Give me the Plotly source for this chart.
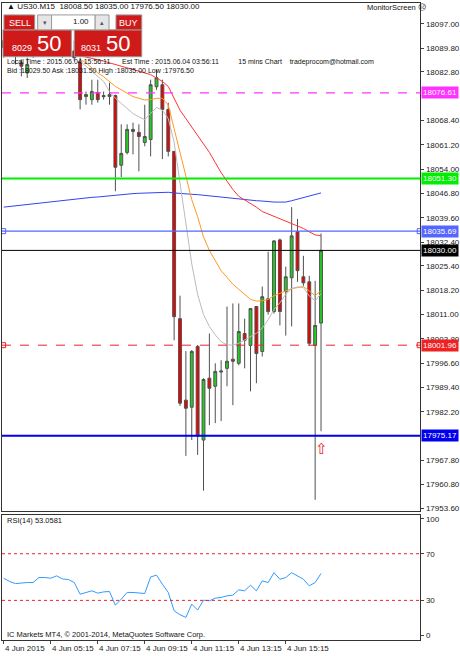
import plotly.graph_objects as go

# ---- data ----
x_idx = list(range(55))  # M15 candles from 03:15 to 16:45
opens = [18090, 18092, 18089, 18085.5, 18082.5, 18090, 18092, 18094, 18091, 18093, 18090, 18092, 18089,
         18085.8, 18075.5, 18074.6, 18076.7, 18075.8, 18075.5, 18075.8, 18055.2, 18059.0, 18065.2, 18064.9,
         18061.9, 18062.8, 18078.4, 18079.0, 18071.7, 18059.3, 18009.8, 17985.7, 17983.6, 18001.6, 17973.9,
         17992.2, 17989.8, 17994.0, 17995.1, 17997.8, 17996.6, 18005.4, 18001.9, 18013.4, 18000.1, 18015.7,
         18011.9, 18033.1, 18017.8, 18021.9, 18035.5, 18022.2, 18020.7, 18001.9, 18008.5]
highs = [18094, 18095, 18093, 18086.5, 18087.0, 18094, 18096, 18097, 18095, 18096, 18094, 18095, 18092,
         18087.0, 18077.0, 18080.5, 18080.5, 18077.0, 18079.6, 18076.1, 18067.3, 18067.3, 18067.8, 18067.3,
         18073.1, 18080.5, 18083.5, 18080.5, 18073.7, 18059.3, 18016.6, 18000.2, 18000.5, 18002.0, 17992.2,
         18005.4, 17996.6, 17997.5, 18013.4, 18014.3, 18014.3, 18009.8, 18012.8, 18013.4, 18019.3, 18029.6,
         18033.0, 18033.5, 18025.2, 18042.8, 18039.3, 18028.4, 18022.5, 18021.0, 18035.0]
lows = [18087, 18088, 18085, 18081.5, 18081.0, 18087, 18089, 18090, 18088, 18089, 18087, 18088, 18086,
        18071.7, 18073.1, 18073.1, 18073.7, 18074.6, 18073.1, 18047.5, 18051.7, 18058.4, 18058.4, 18053.4,
        18060.8, 18057.8, 18077.5, 18057.0, 18057.8, 18003.4, 17984.0, 17969.2, 17973.9, 17969.5, 17958.9,
        17978.3, 17978.9, 17979.5, 17989.8, 17984.2, 17996.0, 17995.1, 17988.3, 17990.7, 17998.6, 18011.0,
        18011.3, 18007.8, 18004.8, 18007.5, 18020.7, 18019.5, 18001.9, 17956.2, 17976.5]
closes = [18092, 18089, 18091, 18084.5, 18085.0, 18092, 18094, 18091, 18093, 18090, 18092, 18089, 18087,
          18074.6, 18076.1, 18077.0, 18074.6, 18075.5, 18076.1, 18054.6, 18058.7, 18065.8, 18065.8, 18063.7,
          18063.7, 18079.0, 18081.1, 18071.7, 18059.3, 18010.4, 17984.8, 17983.3, 18000.1, 17975.1, 17991.8,
          17989.2, 17994.2, 17994.3, 17997.2, 17997.2, 18006.0, 18003.4, 18012.8, 17999.5, 18016.3, 18011.9,
          18032.8, 18011.9, 18022.2, 18034.3, 18024.0, 18020.4, 18002.5, 18007.8, 18030.0]

ma_red = [None] * 12 + [18088, 18087.6, 18087.3, 18087, 18086.6, 18086, 18085.5, 18085, 18084.5, 18084,
          18083.5, 18083, 18082.5, 18082, 18081, 18080, 18078.5, 18075, 18071.5, 18069, 18066.5, 18064,
          18061.5, 18059, 18056, 18053, 18050.5, 18048, 18046, 18045, 18044, 18042.8, 18041.5, 18040.8,
          18040.2, 18039.5, 18038.6, 18038, 18037.4, 18036.5, 18035.5, 18034.6, 18034.3]
ma_orange = [None] * 13 + [18086.5, 18085.5, 18084, 18082.5, 18081.4, 18080, 18078.5, 18077.5, 18076.5,
             18075.5, 18075, 18074.5, 18074.6, 18075, 18075, 18073, 18066, 18059, 18052, 18045, 18040, 18034,
             18030, 18027, 18024, 18022, 18020, 18018.5, 18017, 18015.5, 18015, 18015.1, 18015.5, 18016.6,
             18017.3, 18018, 18018.7, 18019, 18019.3, 18018, 18016.6, 18018.1]
ma_gray = [None] * 13 + [18086, 18084.5, 18083, 18081.5, 18080, 18077, 18075, 18073.5, 18072, 18070.5,
           18069.5, 18068.7, 18070.5, 18072.3, 18071.5, 18069, 18062, 18050, 18038, 18026, 18017, 18011,
           18007.5, 18005, 18003, 18002, 18002, 18002.5, 18003.5, 18004.5, 18005.5, 18007, 18009.5, 18012.5,
           18014.5, 18017, 18018.7, 18019.2, 18019, 18016.5, 18015.1, 18017.2]
ma_blue = [18042.8, 18043.0, 18043.3, 18043.5, 18043.7, 18043.9, 18044.1, 18044.3, 18044.5, 18044.7,
           18044.9, 18045.0, 18045.2, 18045.4, 18045.5, 18045.7, 18045.8, 18046.0, 18046.2, 18046.4, 18046.5,
           18046.7, 18046.8, 18046.9, 18047.0, 18047.1, 18047.2, 18047.2, 18047.2, 18047.0, 18046.8, 18046.7,
           18046.6, 18046.5, 18046.3, 18046.2, 18046.0, 18045.8, 18045.6, 18045.4, 18045.2, 18045.0, 18044.8,
           18044.7, 18044.6, 18044.4, 18044.3, 18044.3, 18044.3, 18044.7, 18045.2, 18045.6, 18046.0, 18046.5,
           18047.0]
rsi = [49.0, 46.2, 44.4, 45.0, 45.3, 45.3, 49.6, 49.6, 49.0, 51.0, 48.4, 47.9, 45.3, 35.3, 36.8, 38.2,
       36.2, 37.3, 37.6, 25.9, 31.1, 36.8, 36.8, 36.2, 35.9, 50.1, 51.6, 43.9, 36.8, 21.1, 17.7, 15.4, 26.8,
       21.7, 30.2, 29.6, 31.9, 32.5, 33.9, 34.5, 39.0, 38.2, 43.0, 38.2, 46.7, 45.3, 53.8, 48.1, 49.6, 53.8,
       51.0, 48.1, 42.5, 45.3, 53.0581]

price_ticks = [18097.00, 18089.80, 18082.80, 18068.40, 18061.20, 18054.00, 18046.80, 18039.60, 18032.40,
               18025.40, 18018.20, 18011.00, 18003.80, 17996.60, 17989.40, 17982.20, 17967.80, 17960.80,
               17953.60]
rsi_ticks = [100, 70, 30, 0]
time_tick_idx = [0, 8, 16, 24, 32, 40, 48]
time_tick_labels = ["4 Jun 2015", "4 Jun 05:15", "4 Jun 07:15", "4 Jun 09:15", "4 Jun 11:15",
                    "4 Jun 13:15", "4 Jun 15:15"]

# horizontal levels: (price, colour, dash, width)
levels = [(18076.61, "#ff33ff", "dash", 1.2),
          (18051.30, "#00ee00", "solid", 2),
          (18035.69, "#5566ff", "solid", 1.2),
          (18030.00, "#000000", "solid", 1),
          (18001.96, "#ee2222", "dash", 1),
          (17975.17, "#0000ee", "solid", 2)]

W, H = 460, 656
FONT = "Liberation Sans"
def px(x):
    return x / W
def py(y):
    return 1 - y / H

fig = go.Figure()

fig.add_trace(go.Candlestick(
    x=x_idx, open=opens, high=highs, low=lows, close=closes,
    increasing=dict(line=dict(color="#505050", width=1), fillcolor="#22cc22"),
    decreasing=dict(line=dict(color="#505050", width=1), fillcolor="#ee0000"),
    whiskerwidth=0, showlegend=False, hoverinfo="skip", xaxis="x", yaxis="y"))

for vals, col in [(ma_blue, "#3344ee"), (ma_red, "#ff3333"), (ma_orange, "#ff9922"), (ma_gray, "#bbbbbb")]:
    fig.add_trace(go.Scatter(x=x_idx, y=vals, mode="lines", line=dict(color=col, width=1),
                             showlegend=False, hoverinfo="skip"))

for price, col, dash, wd in levels:
    fig.add_shape(type="line", xref="paper", yref="y", x0=px(2), x1=px(424), y0=price, y1=price,
                  line=dict(color=col, dash=dash, width=wd))
    fig.add_annotation(xref="paper", yref="y", x=px(425), y=price, xanchor="left", text=f"{price:.2f}",
                       showarrow=False, bgcolor=col, font=dict(color="white", size=8, family=FONT),
                       borderpad=1)

# little handles on the drawn lines
for price, col in [(18035.69, "#5566ff"), (18001.96, "#ee2222")]:
    fig.add_trace(go.Scatter(x=[-0.1, 70.8], y=[price, price], mode="markers",
                             marker=dict(symbol="square-open", size=5, color=col), showlegend=False,
                             hoverinfo="skip"))

fig.add_annotation(x=54, y=17971.5, text="⇧", showarrow=False, font=dict(color="#ee2222", size=15))

# RSI panel
fig.add_trace(go.Scatter(x=x_idx, y=rsi, mode="lines", line=dict(color="#3399ff", width=1),
                         showlegend=False, hoverinfo="skip", xaxis="x2", yaxis="y2"))
for lvl in [70, 30]:
    fig.add_shape(type="line", xref="x2", yref="y2", x0=-0.3, x1=70.9, y0=lvl, y1=lvl,
                  line=dict(color="#ee2222", dash="dot", width=1))

for i, lab in zip(time_tick_idx, time_tick_labels):
    fig.add_annotation(x=i, xref="x2", y=py(645), yref="paper", text=lab, showarrow=False,
                       xanchor="left", yanchor="top", xshift=-1,
                       font=dict(size=8, family=FONT, color="#222"))

# ---- trade panel overlay ----
red = "#d01a1a"
shapes = [
    dict(x0=3, x1=72, y0=30, y1=57, fill=red),
    dict(x0=75, x1=143, y0=30, y1=57, fill=red),
    dict(x0=4, x1=35, y0=15, y1=30, fill=red),
    dict(x0=117, x1=143, y0=15, y1=30, fill=red),
    dict(x0=38, x1=52, y0=15, y1=30, fill="#e6e6e6"),
    dict(x0=52, x1=96, y0=15, y1=30, fill="white"),
    dict(x0=96, x1=110, y0=15, y1=30, fill="#e6e6e6"),
]
for s in shapes:
    fig.add_shape(type="rect", xref="paper", yref="paper", x0=px(s["x0"]), x1=px(s["x1"]),
                  y0=py(s["y1"]), y1=py(s["y0"]), fillcolor=s["fill"], line=dict(color="#999", width=1),
                  layer="above")

def txt(x, y, t, size=8, color="#111", anchor="left"):
    fig.add_annotation(xref="paper", yref="paper", x=px(x), y=py(y), text=t, showarrow=False,
                       xanchor=anchor, yanchor="middle", font=dict(size=size, color=color, family=FONT))

txt(20, 23, "SELL", 9, "white", "center")
txt(130, 23, "BUY", 9, "white", "center")
txt(45, 23, "▾", 7, "#557", "center")
txt(103, 23, "▴", 7, "#557", "center")
txt(92, 22, "1.00", 8, "#111", "right")
txt(10, 48, "8029", 9, "white")
txt(35, 44, "50", 22, "white")
txt(80, 48, "8031", 9, "white")
txt(105, 44, "50", 22, "white")
txt(5, 7, "▲ US30.M15  18008.50 18035.00 17976.50 18030.00", 8)
txt(368, 8, "MonitorScreen ☹", 7.5)
txt(5, 62, "Local Time : 2015.06.04 15:56:11      Est Time : 2015.06.04 03:56:11          15 mins Chart    tradeprocom@hotmail.com", 7)
txt(5, 71, "Bid :18029.50 Ask :18031.50 High :18035.00 Low :17976.50", 7)
txt(5, 523, "RSI(14) 53.0581", 7.5)
txt(5, 637, "IC Markets MT4, © 2001-2014, MetaQuotes Software Corp.", 7.5)

axis_font = dict(size=8, family=FONT, color="#222")
fig.update_layout(
    width=W, height=H, margin=dict(l=0, r=0, t=0, b=0),
    plot_bgcolor="white", paper_bgcolor="white",
    xaxis=dict(domain=[px(2), px(424)], range=[-0.3, 70.9], showticklabels=False, showgrid=False,
               zeroline=False, showline=True, linecolor="#333", mirror=True, rangeslider=dict(visible=False),
               ticks=""),
    yaxis=dict(domain=[py(513), py(3)], range=[17953.0, 18103.2], side="right", tickvals=price_ticks,
               ticktext=[f"{v:.2f}" for v in price_ticks], ticks="outside", ticklen=3, showgrid=False,
               zeroline=False, showline=True, linecolor="#333", mirror=True, tickfont=axis_font),
    xaxis2=dict(domain=[px(2), px(424)], range=[-0.3, 70.9], anchor="y2", tickvals=time_tick_idx,
                showticklabels=False, ticks="outside", ticklen=3, showgrid=False, zeroline=False,
                showline=True, linecolor="#333", mirror=True),
    yaxis2=dict(domain=[py(643), py(517)], range=[-4, 103.5], side="right", anchor="x2", tickvals=rsi_ticks,
                ticks="outside", ticklen=3, showgrid=False, zeroline=False, showline=True, linecolor="#333",
                mirror=True, tickfont=axis_font),
)

fig.write_html("out.html", config={"displayModeBar": False},
               post_script="document.body.style.margin='0';document.body.style.overflow='hidden';")
